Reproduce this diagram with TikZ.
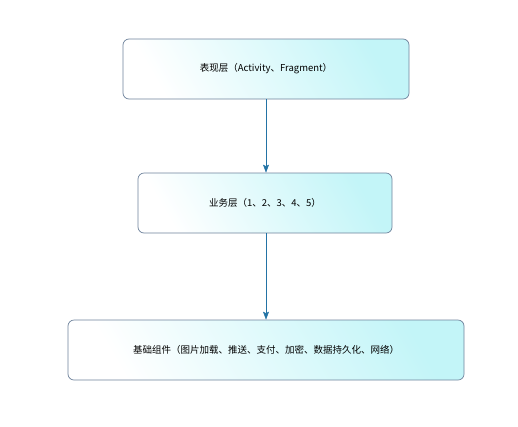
\documentclass[tikz,border=0pt]{standalone}
\usepackage{fontspec}
\setmainfont{Noto Sans CJK SC}
\usetikzlibrary{arrows.meta}

\definecolor{boxline}{RGB}{110,130,155}
\definecolor{boxfill}{RGB}{195,245,248}
\definecolor{arrowblue}{RGB}{35,115,165}

\begin{document}
\begin{tikzpicture}[x=1pt,y=-1pt,>={Stealth[length=8pt,width=6pt,inset=1.5pt]},
                    semithick,
                    layer/.style={draw=boxline,line width=0.7pt,rounded corners=6pt,
                      left color=white,right color=boxfill,shading angle=120,
                      minimum height=60pt,inner sep=0pt,
                      font=\fontsize{9.5}{11}\selectfont}]
 \useasboundingbox (0,0) rectangle (518,426);

 \node [layer,minimum width=286pt] (present)  at (266,69)  {表现层（Activity、Fragment）};
 \node [layer,minimum width=254pt] (business) at (265,203) {业务层（1、2、3、4、5）};
 \node [layer,minimum width=396pt] (base)     at (266,350) {基础组件（图片加载、推送、支付、加密、数据持久化、网络）};

 \draw [arrowblue,->] (present.south -| 266,0) -- (business.north -| 266,0);
 \draw [arrowblue,->] (business.south -| 266,0) -- (base.north -| 266,0);
\end{tikzpicture}
\end{document}
